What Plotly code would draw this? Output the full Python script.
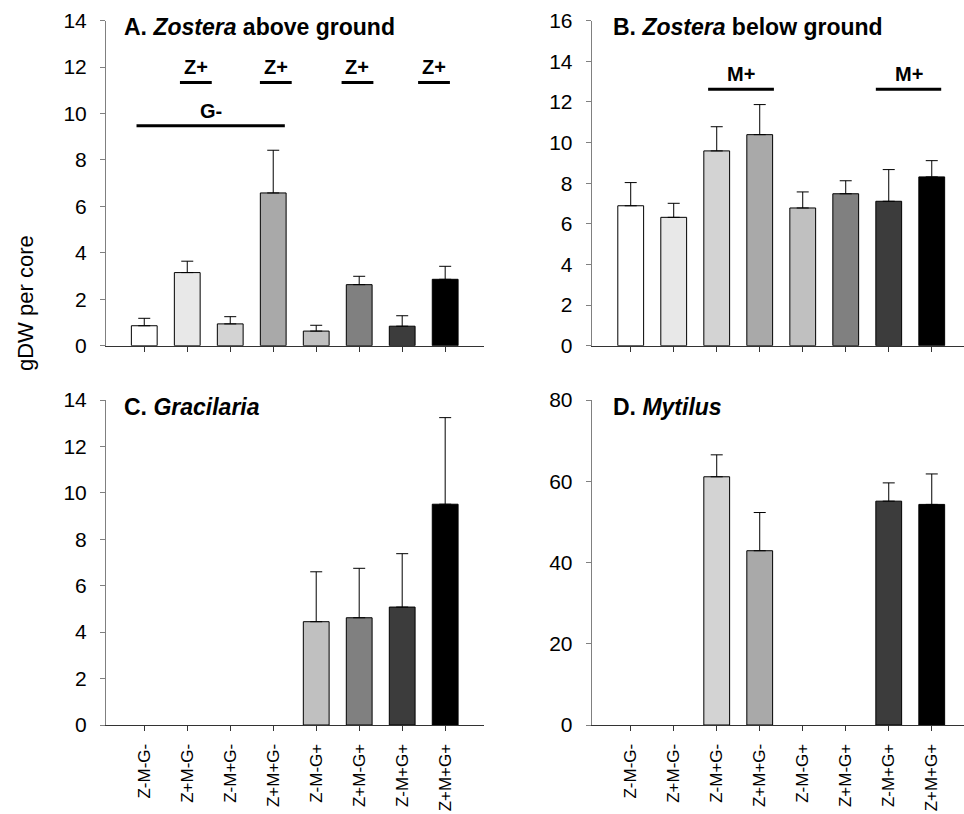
import plotly.graph_objects as go

W, H = 964, 814

categories = ["Z-M-G-", "Z+M-G-", "Z-M+G-", "Z+M+G-", "Z-M-G+", "Z+M-G+", "Z-M+G+", "Z+M+G+"]
bar_colors = ["#FFFFFF", "#E8E8E8", "#D3D3D3", "#A9A9A9", "#C0C0C0", "#808080", "#3C3C3C", "#000000"]

zostera_above = [0.86, 3.15, 0.94, 6.58, 0.63, 2.63, 0.84, 2.86]
zostera_above_err = [0.32, 0.49, 0.31, 1.84, 0.25, 0.36, 0.45, 0.56]

zostera_below = [6.89, 6.32, 9.59, 10.39, 6.78, 7.48, 7.11, 8.31]
zostera_below_err = [1.14, 0.69, 1.19, 1.48, 0.79, 0.64, 1.56, 0.80]

gracilaria = [None, None, None, None, 4.45, 4.62, 5.08, 9.51]
gracilaria_err = [0, 0, 0, 0, 2.15, 2.13, 2.30, 3.73]

mytilus = [None, None, 61.1, 42.9, None, None, 55.1, 54.3]
mytilus_err = [0, 0, 5.4, 9.4, 0, 0, 4.5, 7.5]

panel_titles = ["<b>A. <i>Zostera</i> above ground</b>",
                "<b>B. <i>Zostera</i> below ground</b>",
                "<b>C. <i>Gracilaria</i></b>",
                "<b>D. <i>Mytilus</i></b>"]
y_max = [14, 16, 14, 80]
y_dtick = [2, 2, 2, 20]

# significance brackets: (x0, x1, y, label) in category-index / data units
bracket_A = [(0.83, 1.57, 11.34, "Z+"), (2.69, 3.43, 11.34, "Z+"),
             (4.59, 5.33, 11.34, "Z+"), (6.37, 7.11, 11.34, "Z+"),
             (-0.18, 3.27, 9.48, "G-")]
bracket_B = [(1.80, 3.33, 12.62, "M+"), (5.70, 7.22, 12.62, "M+")]

FONT = "Arial, Liberation Sans, sans-serif"

# pixel geometry of plot areas
dom_x = [(106, 484.3), (591.7, 964), (106, 484.3), (591.7, 964)]
dom_y = [(20.7, 345.7), (20.7, 345.7), (400, 725), (400, 725)]
x_ranges = [(-0.89, 7.91), (-0.907, 7.75), (-0.89, 7.91), (-0.907, 7.75)]

fig = go.Figure()
xpos = list(range(len(categories)))
series = [(zostera_above, zostera_above_err), (zostera_below, zostera_below_err),
          (gracilaria, gracilaria_err), (mytilus, mytilus_err)]

for i, (vals, errs) in enumerate(series):
    k = "" if i == 0 else str(i + 1)
    fig.add_trace(go.Bar(
        x=xpos, y=vals, width=0.6,
        marker=dict(color=bar_colors, line=dict(color="#000000", width=1)),
        error_y=dict(type="data", array=errs, arrayminus=[0] * len(errs), symmetric=False,
                     color="#000000", thickness=1, width=6),
        xaxis="x" + k, yaxis="y" + k, showlegend=False, hoverinfo="skip",
    ))
    xd = dom_x[i]
    yd = dom_y[i]
    fig.layout["xaxis" + k] = dict(
        domain=[xd[0] / W, min(xd[1] / W, 1.0)], anchor="y" + k,
        range=list(x_ranges[i]), tickmode="array", tickvals=xpos,
        ticktext=categories if i >= 2 else [""] * len(categories),
        showticklabels=(i >= 2), tickangle=-90,
        ticks="outside", ticklen=5, tickcolor="#333333", tickwidth=1,
        showline=True, linecolor="#333333", linewidth=1,
        showgrid=False, zeroline=False, automargin=False,
        tickfont=dict(family=FONT, size=17, color="#000000"),
        ticklabelstandoff=6,
    )
    fig.layout["yaxis" + k] = dict(
        domain=[1 - yd[1] / H, 1 - yd[0] / H], anchor="x" + k,
        range=[0, y_max[i]], dtick=y_dtick[i], tick0=0,
        ticks="outside", ticklen=5, tickcolor="#808080", tickwidth=1,
        showline=True, linecolor="#808080", linewidth=1,
        showgrid=False, zeroline=False, automargin=False,
        tickfont=dict(family=FONT, size=21, color="#000000"),
        ticklabelstandoff=9,
    )
    fig.add_annotation(
        text=panel_titles[i], xref="paper", yref="paper",
        x=(xd[0] + (16 if i % 2 == 0 else 19.6)) / W, y=1 - (yd[0] + 6.5) / H,
        xanchor="left", yanchor="middle", showarrow=False,
        font=dict(family=FONT, size=23, color="#000000"),
    )

for (brackets, k, ymax) in [(bracket_A, "", 14), (bracket_B, "2", 16)]:
    for (x0, x1, yv, lab) in brackets:
        fig.add_shape(type="line", xref="x" + k, yref="y" + k, x0=x0, x1=x1, y0=yv, y1=yv,
                      line=dict(color="#000000", width=3))
        fig.add_annotation(text="<b>" + lab + "</b>", xref="x" + k, yref="y" + k,
                           x=(x0 + x1) / 2, y=yv, yshift=2, xanchor="center", yanchor="bottom",
                           showarrow=False, font=dict(family=FONT, size=20, color="#000000"))

fig.add_annotation(text="gDW per core", xref="paper", yref="paper",
                   x=25 / W, y=1 - 303 / H, textangle=-90, showarrow=False,
                   xanchor="center", yanchor="middle",
                   font=dict(family=FONT, size=22, color="#000000"))

fig.update_layout(width=W, height=H, margin=dict(l=0, r=0, t=0, b=0, pad=0, autoexpand=False),
                  paper_bgcolor="#FFFFFF", plot_bgcolor="#FFFFFF",
                  bargap=0.4, font=dict(family=FONT), hovermode=False)

fig.write_html("out.html", config={"displayModeBar": False},
               post_script="document.body.style.margin='0px';")
